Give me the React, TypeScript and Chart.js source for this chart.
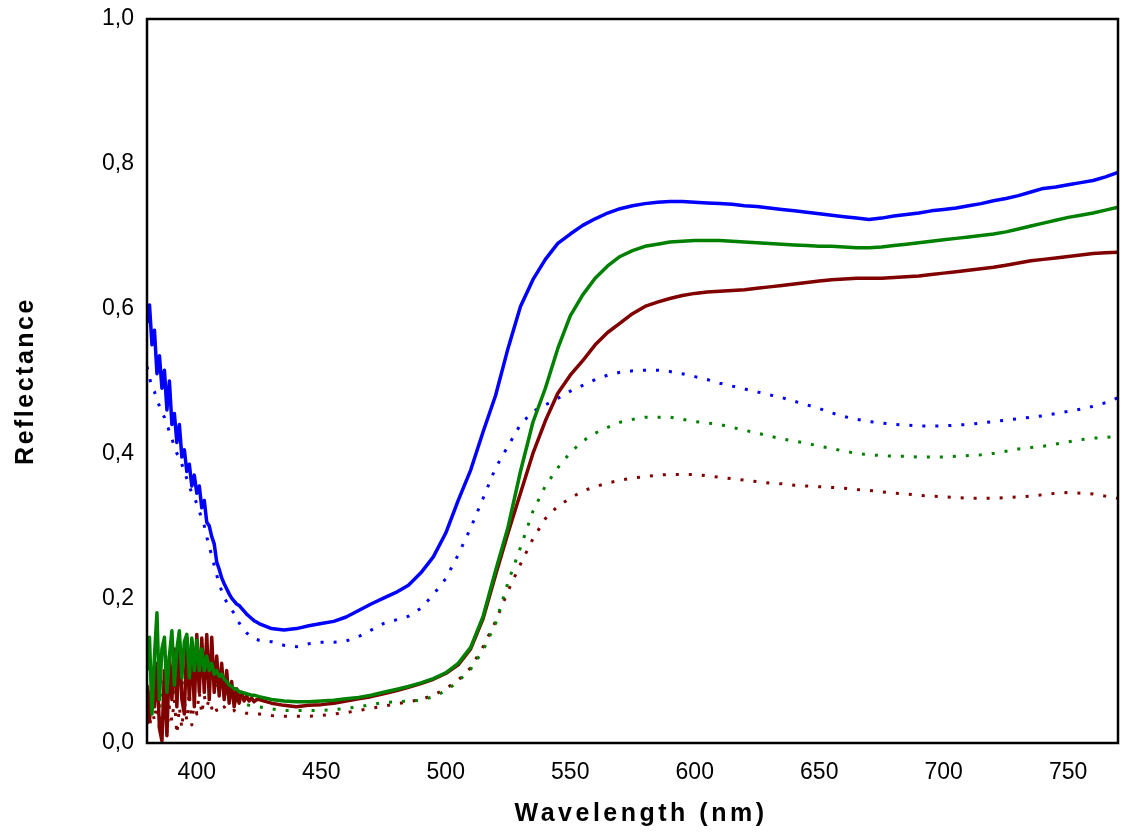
import React, { useEffect, useRef } from "react";
import { Chart, registerables } from "chart.js";

Chart.register(...registerables);

const wavelengths = [
  380, 381, 382, 383, 384, 385, 386, 387, 388, 389,
  390, 391, 392, 393, 394, 395, 396, 397, 398, 399,
  400, 401, 402, 403, 404, 405, 406, 407, 408, 409,
  410, 411, 412, 413, 414, 415, 416, 417, 418, 419,
  420, 421, 422, 423, 424,
  425, 430, 435, 440, 445, 450, 455, 460, 465, 470,
  475, 480, 485, 490, 495, 500, 505, 510, 515, 520,
  525, 530, 535, 540, 545, 550, 555, 560, 565, 570,
  575, 580, 585, 590, 595, 600, 605, 610, 615, 620,
  625, 630, 635, 640, 645, 650, 655, 660, 665, 670,
  675, 680, 685, 690, 695, 700, 705, 710, 715, 720,
  725, 730, 735, 740, 745, 750, 755, 760, 765, 770,
];

const blueSolid = [
  0.58, 0.605, 0.55, 0.57, 0.51, 0.535, 0.49, 0.515, 0.46, 0.5,
  0.44, 0.455, 0.415, 0.44, 0.395, 0.405, 0.375, 0.385, 0.355, 0.37,
  0.345, 0.355, 0.325, 0.335, 0.305, 0.3, 0.285, 0.275, 0.25, 0.24,
  0.228, 0.22, 0.213, 0.206, 0.2, 0.196, 0.192, 0.19, 0.186, 0.182,
  0.178, 0.175, 0.172, 0.169, 0.167,
  0.165, 0.158, 0.156, 0.158, 0.162, 0.165, 0.168, 0.174, 0.183, 0.192,
  0.2, 0.208, 0.218, 0.235, 0.257, 0.29, 0.335, 0.377, 0.43, 0.48,
  0.545, 0.603, 0.64, 0.668, 0.69, 0.703, 0.715, 0.724, 0.732, 0.738,
  0.742, 0.745, 0.747, 0.748, 0.748, 0.747, 0.746, 0.745, 0.744, 0.742,
  0.741, 0.739, 0.737, 0.735, 0.733, 0.731, 0.729, 0.727, 0.725, 0.723,
  0.725, 0.728, 0.73, 0.732, 0.735, 0.737, 0.739, 0.742, 0.745, 0.749,
  0.752, 0.756, 0.761, 0.766, 0.768, 0.771, 0.774, 0.777, 0.782, 0.788,
];

const greenSolid = [
  0.1, 0.146, 0.04, 0.12, 0.18, 0.06, 0.13, 0.146, 0.07, 0.12,
  0.155, 0.08, 0.13, 0.155, 0.09, 0.14, 0.15, 0.09, 0.145, 0.1,
  0.142, 0.1, 0.13, 0.1, 0.12, 0.1, 0.11, 0.095, 0.1, 0.092,
  0.095, 0.088, 0.085, 0.08, 0.078, 0.075, 0.074, 0.071, 0.07, 0.069,
  0.068, 0.067, 0.066, 0.066, 0.065,
  0.064, 0.06, 0.058, 0.057, 0.057, 0.058, 0.059, 0.061, 0.063, 0.066,
  0.07, 0.074, 0.078, 0.083, 0.089, 0.097, 0.11, 0.132, 0.175, 0.238,
  0.298, 0.375, 0.443, 0.49, 0.545, 0.59, 0.619, 0.642, 0.659, 0.672,
  0.68, 0.686, 0.689, 0.692, 0.693, 0.694, 0.694, 0.694, 0.693, 0.692,
  0.691, 0.69, 0.689, 0.688, 0.687, 0.686, 0.686, 0.685, 0.684, 0.684,
  0.685, 0.687, 0.689, 0.691, 0.693, 0.695, 0.697, 0.699, 0.701, 0.703,
  0.706, 0.71, 0.714, 0.718, 0.722, 0.726, 0.729, 0.732, 0.736, 0.74,
];

const redSolid = [
  0.08, 0.03, 0.09, 0.05, 0.11, 0.02, 0.003, 0.1, 0.01, 0.12,
  0.06, 0.13, 0.05, 0.14, 0.06, 0.04, 0.145, 0.06, 0.14, 0.05,
  0.15, 0.07, 0.145, 0.07, 0.15, 0.06, 0.146, 0.07, 0.12, 0.065,
  0.11, 0.06, 0.1, 0.055, 0.085, 0.05, 0.075, 0.055, 0.07, 0.058,
  0.065, 0.058, 0.062, 0.057, 0.06,
  0.06, 0.055, 0.052, 0.05, 0.052, 0.053, 0.055, 0.058, 0.061, 0.064,
  0.068, 0.072, 0.077, 0.082, 0.088, 0.096, 0.108, 0.13, 0.172, 0.232,
  0.29, 0.345, 0.4, 0.445, 0.483, 0.508, 0.528, 0.55, 0.567, 0.58,
  0.593, 0.603, 0.609, 0.614, 0.618, 0.621, 0.623, 0.624, 0.625, 0.626,
  0.628, 0.63, 0.632, 0.634, 0.636, 0.638, 0.64, 0.641, 0.642, 0.642,
  0.642, 0.643, 0.644, 0.645, 0.647, 0.649, 0.651, 0.653, 0.655, 0.657,
  0.66, 0.663, 0.666, 0.668, 0.67, 0.672, 0.674, 0.676, 0.677, 0.678,
];

const blueDotted = [
  0.52, 0.505, 0.49, 0.485, 0.475, 0.465, 0.455, 0.45, 0.44, 0.43,
  0.42, 0.41, 0.4, 0.395, 0.385, 0.375, 0.365, 0.355, 0.345, 0.34,
  0.33, 0.32, 0.31, 0.3, 0.285, 0.27, 0.26, 0.245, 0.232, 0.22,
  0.21, 0.2, 0.195, 0.19, 0.184, 0.179, 0.172, 0.166, 0.16, 0.156,
  0.152, 0.149, 0.146, 0.144, 0.143,
  0.142, 0.14, 0.135, 0.133, 0.137, 0.139, 0.139, 0.141, 0.147, 0.156,
  0.165, 0.17, 0.175, 0.186, 0.205, 0.227, 0.26, 0.297, 0.338, 0.38,
  0.41, 0.44, 0.458, 0.467, 0.476, 0.486, 0.494, 0.502, 0.508, 0.512,
  0.514, 0.515, 0.515, 0.513, 0.51, 0.506, 0.502, 0.497, 0.493, 0.489,
  0.485, 0.481, 0.477, 0.472, 0.467, 0.462, 0.456, 0.451, 0.447, 0.444,
  0.442, 0.44, 0.439, 0.438, 0.438, 0.438, 0.439, 0.44, 0.442, 0.444,
  0.446, 0.448, 0.45, 0.452, 0.455, 0.458, 0.461, 0.465, 0.47, 0.477,
];

const greenDotted = [
  0.05, 0.07, 0.045, 0.06, 0.08, 0.05, 0.07, 0.09, 0.06, 0.08,
  0.1, 0.07, 0.09, 0.1, 0.08, 0.095, 0.1, 0.085, 0.1, 0.09,
  0.098, 0.09, 0.092, 0.088, 0.09, 0.085, 0.085, 0.08, 0.078, 0.075,
  0.072, 0.07, 0.067, 0.065, 0.062, 0.06, 0.058, 0.056, 0.055, 0.054,
  0.053, 0.052, 0.051, 0.05, 0.05,
  0.05, 0.047, 0.045, 0.045, 0.045, 0.045, 0.046, 0.048, 0.05, 0.053,
  0.056, 0.057, 0.058, 0.059, 0.064, 0.072, 0.085, 0.102, 0.128, 0.165,
  0.222, 0.27, 0.32, 0.355, 0.38, 0.401, 0.417, 0.428, 0.436, 0.443,
  0.447, 0.45, 0.45, 0.45, 0.447, 0.444, 0.442, 0.44, 0.436, 0.432,
  0.428, 0.424, 0.42, 0.417, 0.414, 0.41, 0.407, 0.403, 0.4, 0.398,
  0.397, 0.396, 0.396, 0.395, 0.395, 0.395, 0.396, 0.397, 0.398, 0.4,
  0.403, 0.406, 0.408, 0.41, 0.413, 0.416, 0.419, 0.421, 0.422, 0.424,
];

const redDotted = [
  0.03, 0.02, 0.05, 0.03, 0.06, 0.02, 0.04, 0.07, 0.015, 0.05,
  0.03, 0.06, 0.012, 0.05, 0.02, 0.06, 0.03, 0.07, 0.025, 0.06,
  0.04, 0.07, 0.04, 0.065, 0.05, 0.06, 0.048, 0.055, 0.045, 0.052,
  0.048, 0.05, 0.045, 0.047, 0.044, 0.045, 0.043, 0.043, 0.042, 0.042,
  0.041, 0.041, 0.04, 0.04, 0.04,
  0.04, 0.038, 0.037, 0.037, 0.037, 0.038, 0.04, 0.042, 0.045, 0.048,
  0.051, 0.054, 0.057, 0.06, 0.066, 0.075, 0.087, 0.104, 0.133, 0.168,
  0.21, 0.247, 0.282, 0.31, 0.327, 0.338, 0.348, 0.354, 0.359, 0.363,
  0.366, 0.368, 0.37, 0.371, 0.371, 0.371, 0.369, 0.367, 0.365, 0.363,
  0.361, 0.359, 0.358, 0.356, 0.355, 0.354, 0.353, 0.352, 0.35, 0.349,
  0.347, 0.345, 0.344, 0.342, 0.341, 0.34, 0.339, 0.338, 0.338, 0.338,
  0.339, 0.34, 0.341, 0.343, 0.345, 0.346, 0.345, 0.344, 0.341, 0.338,
];

const xTickValues = [400, 450, 500, 550, 600, 650, 700, 750];
const yTickValues = [0, 0.2, 0.4, 0.6, 0.8, 1.0];
const yTickLabels = ["0,0", "0,2", "0,4", "0,6", "0,8", "1,0"];
const xTitle = "Wavelength (nm)";
const yTitle = "Reflectance";

const BLUE = "#0000FF";
const GREEN = "#008000";
const RED = "#800000";
const FONT = '"Liberation Sans", Arial, Helvetica, sans-serif';

const toPoints = (ys: number[]) => wavelengths.map((x, i) => ({ x, y: ys[i] }));

export default function App() {
  const ref = useRef<HTMLCanvasElement | null>(null);

  useEffect(() => {
    if (!ref.current) return;
    const solid = (data: number[], color: string) => ({
      data: toPoints(data),
      borderColor: color,
      backgroundColor: color,
      borderWidth: 3.5,
      pointRadius: 0,
      tension: 0,
      fill: false,
    });
    const dotted = (data: number[], color: string) => ({
      data: toPoints(data),
      borderColor: color,
      backgroundColor: color,
      borderWidth: 3,
      borderDash: [3, 10],
      pointRadius: 0,
      tension: 0,
      fill: false,
    });

    const framePlugin = {
      id: "frameAndTitles",
      afterDraw(chart: any) {
        const { ctx, chartArea } = chart;
        ctx.save();
        ctx.strokeStyle = "#000";
        ctx.lineWidth = 2.5;
        ctx.strokeRect(
          chartArea.left,
          chartArea.top,
          chartArea.right - chartArea.left,
          chartArea.bottom - chartArea.top
        );
        ctx.fillStyle = "#000";
        ctx.font = `bold 25px ${FONT}`;
        ctx.textAlign = "center";
        ctx.textBaseline = "middle";
        (ctx as any).letterSpacing = "3.5px";
        ctx.fillText(xTitle, 641, 814);
        ctx.translate(26, 381);
        ctx.rotate(-Math.PI / 2);
        (ctx as any).letterSpacing = "2.5px";
        ctx.fillText(yTitle, 0, 0);
        ctx.restore();
      },
    };

    const chart = new Chart(ref.current, {
      type: "line",
      data: {
        datasets: [
          solid(greenSolid, GREEN),
          solid(redSolid, RED),
          solid(blueSolid, BLUE),
          dotted(greenDotted, GREEN),
          dotted(redDotted, RED),
          dotted(blueDotted, BLUE),
        ] as any,
      },
      options: {
        animation: false,
        responsive: false,
        maintainAspectRatio: false,
        layout: { padding: { left: 0, right: 4, top: 19, bottom: 0 } },
        plugins: {
          legend: { display: false },
          tooltip: { enabled: false },
        },
        elements: { line: { borderJoinStyle: "round" } },
        scales: {
          x: {
            type: "linear",
            min: 380,
            max: 770,
            grid: { display: false, drawTicks: false },
            border: { display: false },
            afterBuildTicks: (scale: any) => {
              scale.ticks = xTickValues.map((v) => ({ value: v }));
            },
            afterFit: (scale: any) => {
              scale.height = 95;
              scale.paddingLeft = 0;
              scale.paddingRight = 0;
            },
            ticks: {
              color: "#000",
              padding: 16,
              maxRotation: 0,
              autoSkip: false,
              font: { family: FONT, size: 23 },
              callback: (v: any) => String(v),
            },
          },
          y: {
            type: "linear",
            min: 0,
            max: 1,
            grid: { display: false, drawTicks: false },
            border: { display: false },
            afterBuildTicks: (scale: any) => {
              scale.ticks = yTickValues.map((v) => ({ value: v }));
            },
            afterFit: (scale: any) => {
              scale.width = 147;
              scale.paddingTop = 0;
              scale.paddingBottom = 0;
            },
            ticks: {
              color: "#000",
              padding: 13,
              autoSkip: false,
              font: { family: FONT, size: 23 },
              callback: (v: any) => {
                const i = yTickValues.findIndex((t) => Math.abs(t - Number(v)) < 1e-6);
                return i >= 0 ? yTickLabels[i] : "";
              },
            },
          },
        },
      },
      plugins: [framePlugin],
    });
    return () => chart.destroy();
  }, []);

  return (
    <div style={{ position: "fixed", left: 0, top: 0, width: 1122, height: 838, background: "#fff" }}>
      <canvas ref={ref} width={1122} height={838} style={{ display: "block" }} />
    </div>
  );
}
